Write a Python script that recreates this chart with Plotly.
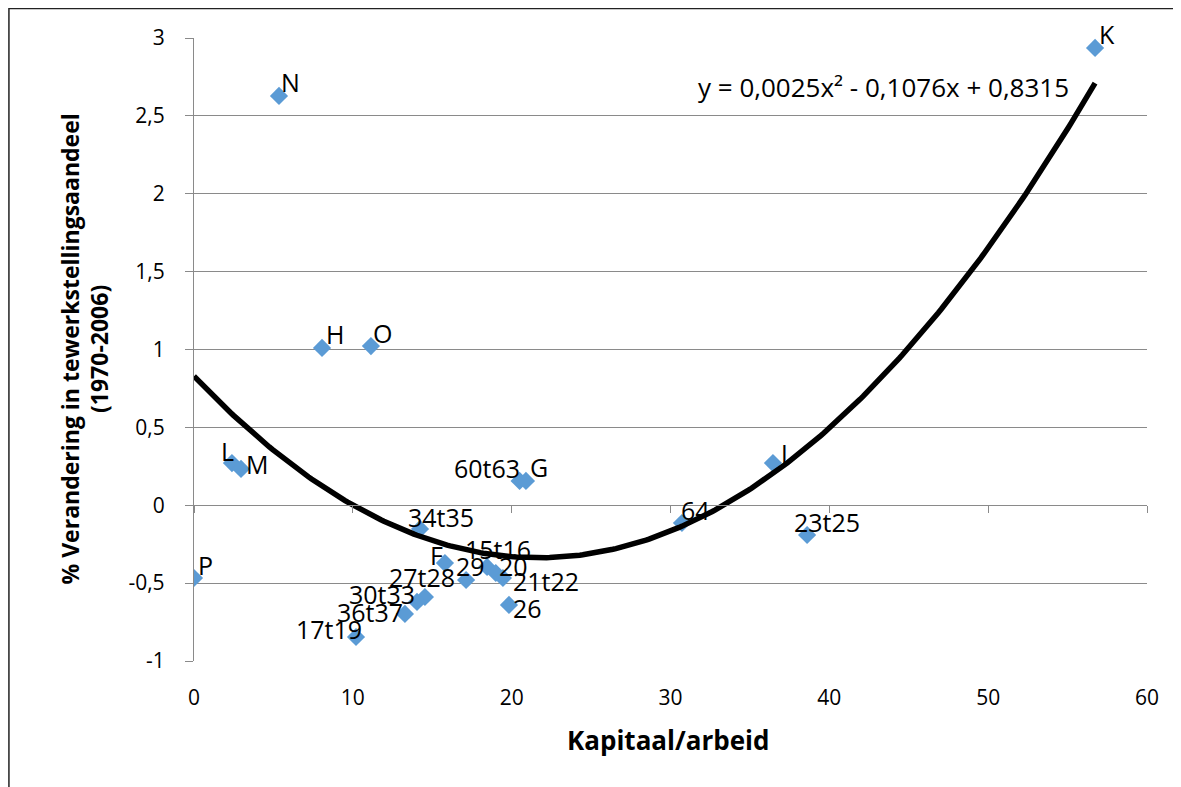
import numpy as np
import plotly.graph_objects as go

# ---- data ----
labels = ["N", "K", "H", "O", "L", "M", "P", "60t63", "G", "J", "64", "23t25",
          "34t35", "F", "29", "15t16", "20", "21t22", "26", "27t28", "30t33",
          "36t37", "17t19"]
kapitaal_arbeid = [5.35, 56.73, 8.06, 11.14, 2.39, 2.96, 0.0, 20.5, 20.9, 36.45,
                   30.72, 38.6, 14.23, 15.8, 17.13, 18.45, 19.0, 19.45, 19.83,
                   14.54, 14.04, 13.28, 10.2]
verandering = [2.628, 2.936, 1.01, 1.022, 0.271, 0.233, -0.467, 0.156, 0.156,
               0.271, -0.114, -0.191, -0.152, -0.371, -0.48, -0.396, -0.435,
               -0.467, -0.64, -0.589, -0.621, -0.698, -0.846]

y_tickvals = [-1, -0.5, 0, 0.5, 1, 1.5, 2, 2.5, 3]
y_ticktext = ["-1", "-0,5", "0", "0,5", "1", "1,5", "2", "2,5", "3"]
x_tickvals = [0, 10, 20, 30, 40, 50, 60]
x_ticktext = ["0", "10", "20", "30", "40", "50", "60"]

equation_text = "y = 0,0025x² - 0,1076x + 0,8315"
x_title = "Kapitaal/arbeid"
y_title = "% Verandering in tewerkstellingsaandeel<br>(1970-2006)"

# label offsets in pixels (dx right, dy up) - styling only
label_offsets = [(12, 14), (12, 14), (13, 14), (12, 13), (-4, 12), (16, 5),
                 (11, 13), (-33, 13), (13, 14), (11, 10), (14, 13), (20, 13),
                 (21, 12), (-8, 8), (4, 14), (11, 18), (18, 7), (43, -3),
                 (19, -3), (-3, 20), (-35, 8), (-35, 2), (-27, 8)]

FONT = "Open Sans"
GRID = "#8a8a8a"
BLUE = "#5B9BD5"

# polynomial (order 2) trendline fitted to the data
coef = np.polyfit(kapitaal_arbeid, verandering, 2)
xs = np.linspace(min(kapitaal_arbeid), max(kapitaal_arbeid), 300)
ys = np.polyval(coef, xs)

fig = go.Figure()
fig.add_trace(go.Scatter(
    x=kapitaal_arbeid, y=verandering, mode="markers",
    marker=dict(symbol="diamond", size=14, color=BLUE, line=dict(width=0)),
    showlegend=False, hoverinfo="text", text=labels))
fig.add_trace(go.Scatter(
    x=xs, y=ys, mode="lines", line=dict(color="black", width=5.5),
    showlegend=False, hoverinfo="skip"))
# empty helper trace so the x-axis drawn at y=0 is rendered
fig.add_trace(go.Scatter(x=[], y=[], xaxis="x2", yaxis="y", showlegend=False))

annotations = []
for lab, xv, yv, (dx, dy) in zip(labels, kapitaal_arbeid, verandering, label_offsets):
    annotations.append(dict(x=xv, y=yv, xref="x", yref="y", text=lab,
                            showarrow=False, xshift=dx, yshift=dy,
                            xanchor="center", yanchor="middle",
                            font=dict(family=FONT, size=25, color="black")))

annotations.append(dict(x=43.4, y=2.685, xref="x", yref="y", text=equation_text,
                        showarrow=False, xanchor="center", yanchor="middle",
                        font=dict(family=FONT, size=26, color="black")))
annotations.append(dict(x=0.497, y=-0.1268, xref="paper", yref="paper", text=x_title,
                        showarrow=False, xanchor="center", yanchor="middle",
                        font=dict(family=FONT, size=26, color="black", weight="bold")))
annotations.append(dict(x=-0.1154, y=0.5, xref="paper", yref="paper", text=y_title,
                        showarrow=False, xanchor="center", yanchor="middle",
                        textangle=-90,
                        font=dict(family=FONT, size=23, color="black", weight="bold")))

fig.update_layout(
    width=1181, height=787,
    margin=dict(l=186, r=42, t=30, b=134),
    paper_bgcolor="white", plot_bgcolor="white",
    font=dict(family=FONT, color="black"),
    annotations=annotations,
    xaxis=dict(range=[0, 60], tickvals=x_tickvals, ticktext=x_ticktext,
               showgrid=False, zeroline=False, showline=False, ticks="",
               ticklabelstandoff=22, tickfont=dict(family=FONT, size=21, color="black")),
    xaxis2=dict(range=[0, 60], overlaying="x", anchor="free", position=0.25,
                tickvals=x_tickvals, showticklabels=False, showgrid=False,
                zeroline=False, showline=True, linecolor=GRID, linewidth=1.3,
                ticks="outside", ticklen=7, tickcolor=GRID, tickwidth=1.3),
    yaxis=dict(range=[-1, 3], tickvals=y_tickvals, ticktext=y_ticktext,
               showgrid=True, gridcolor=GRID, gridwidth=1.3, zeroline=False,
               showline=True, linecolor=GRID, linewidth=1.3,
               ticks="outside", ticklen=8, tickcolor=GRID, tickwidth=1.3,
               ticklabelstandoff=16,
               tickfont=dict(family=FONT, size=21, color="black")),
    shapes=[dict(type="rect", xref="paper", yref="paper",
                 x0=-0.1942, x1=1.3, y0=-0.5, y1=1.0472,
                 line=dict(color="#222222", width=1.5), fillcolor="rgba(0,0,0,0)",
                 layer="above")],
)

fig.write_html("out.html")
